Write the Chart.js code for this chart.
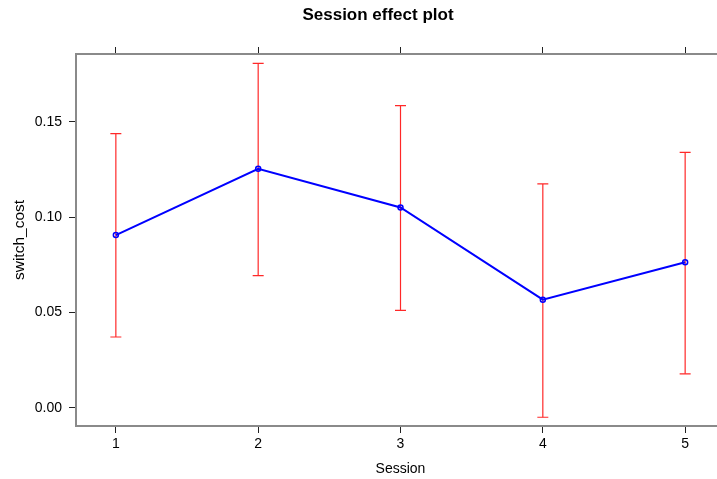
<!DOCTYPE html>
<html>
<head>
<meta charset="utf-8">
<script src="https://cdn.jsdelivr.net/npm/chart.js@4.4.0/dist/chart.umd.min.js"></script>
<style>
  html, body { margin: 0; padding: 0; background: #fff; overflow: hidden; }
  canvas { display: block; }
</style>
</head>
<body>
<canvas id="c" width="756" height="479" style="width:756px;height:479px"></canvas>
<script>
// Session effect estimates with 95% confidence limits
const sessions = [1, 2, 3, 4, 5];
const effect   = [0.0906, 0.1254, 0.1051, 0.0567, 0.0763];
const lower    = [0.0371, 0.0693, 0.0511, -0.0050, 0.0178];
const upper    = [0.1438, 0.1807, 0.1585, 0.1174, 0.1340];
const xTicks   = [1, 2, 3, 4, 5];
const yTicks   = [0.00, 0.05, 0.10, 0.15];

const FONT = "'Liberation Sans', Arial, sans-serif";
Chart.defaults.font.family = FONT;
Chart.defaults.color = '#000';

// vertical confidence bars with end caps, drawn under the line
const errorBars = {
  id: 'errorBars',
  beforeDatasetsDraw(chart) {
    const { ctx, scales: { x, y } } = chart;
    ctx.save();
    ctx.strokeStyle = 'rgb(255,40,40)';
    ctx.lineWidth = 1.2;
    sessions.forEach((s, i) => {
      const px = x.getPixelForValue(s);
      const y1 = y.getPixelForValue(lower[i]);
      const y2 = y.getPixelForValue(upper[i]);
      ctx.beginPath();
      ctx.moveTo(px, y1); ctx.lineTo(px, y2);
      ctx.stroke();
      ctx.beginPath();
      ctx.moveTo(px - 5.5, y1); ctx.lineTo(px + 5.5, y1);
      ctx.moveTo(px - 5.5, y2); ctx.lineTo(px + 5.5, y2);
      ctx.stroke();
    });
    ctx.restore();
  }
};

const gridOpts = { drawOnChartArea: false, tickLength: 7, tickColor: '#222', lineWidth: 1 };
const borderOpts = { color: '#8a8a8a', width: 2 };
const setTicks = list => scale => { scale.ticks = list.map(v => ({ value: v })); };

new Chart(document.getElementById('c'), {
  type: 'line',
  data: {
    datasets: [{
      data: sessions.map((s, i) => ({ x: s, y: effect[i] })),
      xAxisID: 'x',
      yAxisID: 'y',
      borderColor: '#0000ff',
      borderWidth: 2,
      pointRadius: 2.5,
      pointBorderWidth: 1.5,
      pointBorderColor: '#0000ff',
      pointBackgroundColor: 'rgba(0,0,0,0)',
      tension: 0,
      fill: false
    }]
  },
  options: {
    responsive: false,
    animation: false,
    devicePixelRatio: 1,
    layout: { padding: { left: 31, right: 31, top: 0, bottom: 0 } },
    plugins: {
      legend: { display: false },
      tooltip: { enabled: false },
      title: {
        display: true,
        text: 'Session effect plot',
        color: '#000',
        font: { family: FONT, size: 17, weight: 'bold' },
        padding: { top: 5.2, bottom: 21.4 }
      }
    },
    scales: {
      x: {
        type: 'linear', position: 'bottom', min: 0.72, max: 5.28,
        afterBuildTicks: setTicks(xTicks),
        afterFit: s => { s.height = 53; },
        grid: gridOpts, border: borderOpts,
        ticks: { color: '#000', font: { size: 14 }, padding: 3, callback: v => String(v) },
        title: { display: true, text: 'Session', color: '#000', font: { size: 14 }, padding: { top: 0, bottom: 1.6 } }
      },
      xTop: {
        type: 'linear', position: 'top', min: 0.72, max: 5.28,
        afterBuildTicks: setTicks(xTicks),
        afterFit: s => { s.height = 7; },
        grid: gridOpts, border: borderOpts,
        ticks: { display: false }
      },
      y: {
        type: 'linear', position: 'left', min: -0.0096, max: 0.1856,
        afterBuildTicks: setTicks(yTicks),
        afterFit: s => { s.width = 45; },
        grid: gridOpts, border: borderOpts,
        ticks: { color: '#000', font: { size: 14 }, padding: 7, callback: v => Number(v).toFixed(2) },
        title: { display: true, text: 'switch_cost', color: '#000', font: { size: 15.5 }, padding: { top: -21, bottom: 0 } }
      }
    }
  },
  plugins: [errorBars]
});
</script>
</body>
</html>
